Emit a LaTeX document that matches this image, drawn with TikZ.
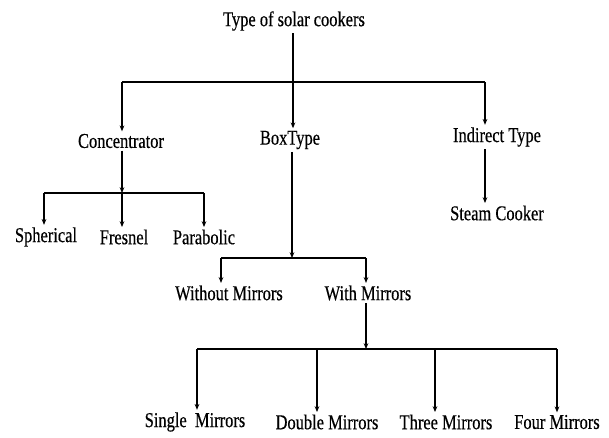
\documentclass[tikz,border=0pt]{standalone}
\usepackage{fontspec}
\setmainfont{Liberation Serif}[FakeStretch=0.78, FakeBold=0.4]
\usetikzlibrary{positioning, arrows.meta, calc}

\begin{document}
\begin{tikzpicture}[
    x=0.03cm, y=-0.03cm,
    every node/.style={align=center, inner sep=2pt, font=\fontsize{18}{20}\selectfont},
    line/.style={line width=1pt},
    arrow/.style={-{Stealth[length=5pt, width=4pt]}, line width=1pt},
]
\useasboundingbox (0,0) rectangle (609,437);
% Root at the top
\node (root) at (294,21) {Type of solar cookers};
% First level
\node (conc) at (121,141) {Concentrator};
\node (box) at (290,140) {BoxType};
\node (ind) at (497,137) {Indirect Type};
% Concentrator types
\node (sph) at (46,237) {Spherical};
\node (fres) at (124,237) {Fresnel};
\node (para) at (204,237) {Parabolic};
% Indirect type
\node (steam) at (497,213) {Steam Cooker};
% Box types
\node (without) at (229,293) {Without Mirrors};
\node (with) at (368,293) {With Mirrors};
% Mirror types
\node (single) at (195,422) {Single~~Mirrors};
\node (double) at (327,422) {Double Mirrors};
\node (three) at (446,422) {Three Mirrors};
\node (four) at (557,422) {Four Mirrors};
% Junctions on the bars
\coordinate (j0) at (293,82);
\coordinate (j0l) at (122,82);
\coordinate (j0r) at (485,82);
\coordinate (j1) at (122,193);
\coordinate (j1l) at (44,193);
\coordinate (j1r) at (204,193);
\coordinate (j2) at (292,258);
\coordinate (j2l) at (221,258);
\coordinate (j2r) at (366,258);
\coordinate (j3) at (366,349);
\coordinate (j3a) at (197,349);
\coordinate (j3b) at (317,349);
\coordinate (j3c) at (435,349);
\coordinate (j3d) at (557,349);
% Root branch
\draw[line] (root.south -| j0) -- (j0);
\draw[line] (j0l) -- (j0r);
\draw[arrow] (j0l) -- (j0l |- conc.north);
\draw[arrow] (j0) -- (j0 |- box.north);
\draw[arrow] (j0r) -- (j0r |- ind.north);
% Concentrator branch
\draw[arrow] (conc.south -| j1) -- (j1);
\draw[line] (j1l) -- (j1r);
\draw[arrow] (j1l) -- (j1l |- sph.north);
\draw[arrow] (j1) -- (j1 |- fres.north);
\draw[arrow] (j1r) -- (j1r |- para.north);
% Indirect branch
\draw[arrow] (ind.south -| j0r) -- (j0r |- steam.north);
% Box branch
\draw[arrow] (box.south -| j2) -- (j2);
\draw[line] (j2l) -- (j2r);
\draw[arrow] (j2l) -- (j2l |- without.north);
\draw[arrow] (j2r) -- (j2r |- with.north);
% Mirrors branch
\draw[arrow] (with.south -| j3) -- (j3);
\draw[line] (j3a) -- (j3d);
\draw[arrow] (j3a) -- (j3a |- single.north);
\draw[arrow] (j3b) -- (j3b |- double.north);
\draw[arrow] (j3c) -- (j3c |- three.north);
\draw[arrow] (j3d) -- (j3d |- four.north);
\end{tikzpicture}
\end{document}
